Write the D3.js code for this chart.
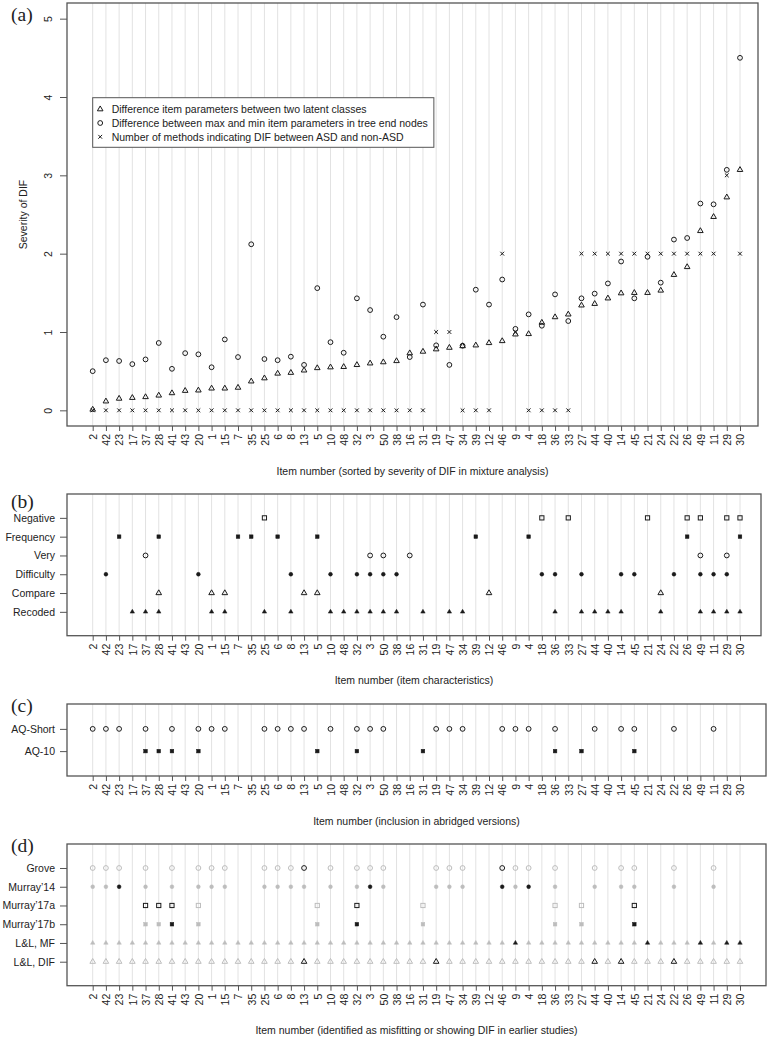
<!DOCTYPE html>
<html>
<head>
<meta charset="utf-8">
<script src="https://cdn.jsdelivr.net/npm/d3@7"></script>
<style>
  html, body { margin: 0; padding: 0; background: #fff; }
  svg { display: block; }
  text { font-family: "Liberation Sans", Arial, sans-serif; fill: #222; }
</style>
</head>
<body>
<svg id="chart" width="769" height="1039"></svg>
<script>
// ---------------- DATA ----------------
const items = [2,42,23,17,37,28,41,43,20,1,15,7,35,25,6,8,13,5,10,48,32,3,50,38,16,31,19,47,34,39,12,46,9,4,18,36,33,27,44,40,14,45,21,24,22,26,49,11,29,30];

// (a) severity of DIF
const mixtureDiff = [0.01,0.115,0.15,0.16,0.17,0.19,0.22,0.25,0.255,0.28,0.28,0.29,0.37,0.41,0.47,0.48,0.51,0.54,0.55,0.555,0.58,0.60,0.615,0.63,0.73,0.75,0.78,0.80,0.82,0.83,0.86,0.885,0.97,0.975,1.12,1.19,1.225,1.34,1.36,1.43,1.495,1.50,1.50,1.53,1.73,1.83,2.29,2.47,2.72,3.07];
const treeDiff = [0.50,0.64,0.63,0.59,0.65,0.86,0.53,0.73,0.715,0.55,0.905,0.68,2.12,0.655,0.64,0.685,0.58,1.56,0.87,0.735,1.43,1.28,0.94,1.19,0.68,1.35,0.83,0.58,0.825,1.54,1.35,1.67,1.04,1.225,1.08,1.48,1.14,1.43,1.49,1.62,1.90,1.43,1.96,1.63,2.18,2.20,2.64,2.63,3.07,4.50];
const nMethods = [0,0,0,0,0,0,0,0,0,0,0,0,0,0,0,0,0,0,0,0,0,0,0,0,0,0,1,1,0,0,0,2,1,0,0,0,0,2,2,2,2,2,2,2,2,2,2,2,3,2];
const yTicksA = [0,1,2,3,4,5];
const legendLabels = [
  "Difference item parameters between two latent classes",
  "Difference between max and min item parameters in tree end nodes",
  "Number of methods indicating DIF between ASD and non-ASD"
];

// (b) item characteristics
const charRows = ["Negative","Frequency","Very","Difficulty","Compare","Recoded"];
const negativeItems = [25,18,33,21,26,49,29,30];
const frequencyItems = [23,28,7,35,6,5,39,4,26,30];
const veryItems = [37,3,50,16,49,29];
const difficultyItems = [42,20,8,10,32,3,50,38,18,36,27,14,45,22,49,11,29];
const compareItems = [28,1,15,13,5,12,24];
const recodedItems = [17,37,28,1,15,25,8,10,48,32,3,50,38,31,47,34,36,27,44,40,14,24,49,11,29,30];

// (c) abridged versions
const abridgedRows = ["AQ-Short","AQ-10"];
const aqShortItems = [2,42,23,37,41,20,1,15,25,6,8,13,10,32,3,50,19,47,34,46,9,4,36,44,14,45,22,11];
const aq10Items = [37,28,41,20,5,32,31,36,27,45];

// (d) earlier studies
const studyRows = ["Grove","Murray\u201914","Murray\u201917a","Murray\u201917b","L&L, MF","L&L, DIF"];
const groveFlag = [13,46];
const murray14Flag = [23,3,46,4];
const murray17aFlag = [37,28,41,32,45];
const murray17bFlag = [41,32,45];
const llMfFlag = [9,21,49,29,30];
const llDifFlag = [13,19,44,14,22];

const titles = [
  "Item number (sorted by severity of DIF in mixture analysis)",
  "Item number (item characteristics)",
  "Item number (inclusion in abridged versions)",
  "Item number (identified as misfitting or showing DIF in earlier studies)"
];

// ---------------- DRAWING ----------------
const svg = d3.select("#chart");
const BOX = "#555", GRID = "#e2e2e2", INK = "#1a1a1a", GREY = "#bdbdbd";
const LEFT = 67;
const x = d3.scalePoint().domain(items).range([92.7, 740]);

function sym(g, type, cx, cy, color) {
  color = color || INK;
  if (type === "circleOpen" || type === "circleFilled") {
    const filled = type === "circleFilled";
    g.append("circle").attr("cx", cx).attr("cy", cy)
      .attr("r", filled ? 1.9 : 2.4)
      .attr("fill", filled ? color : "none")
      .attr("stroke", color).attr("stroke-width", filled ? 0.5 : 1);
  } else if (type === "triOpen" || type === "triFilled") {
    const filled = type === "triFilled";
    const a = filled ? 4.4 : 5.6;
    const r = a / Math.sqrt(3);
    const pts = [[cx, cy - r], [cx + a / 2, cy + r / 2], [cx - a / 2, cy + r / 2]];
    g.append("path").attr("d", "M" + pts.map(p => p.join(",")).join("L") + "Z")
      .attr("fill", filled ? color : "none")
      .attr("stroke", color).attr("stroke-width", filled ? 0.5 : 1)
      .attr("stroke-linejoin", "miter");
  } else if (type === "sqOpen" || type === "sqFilled") {
    const filled = type === "sqFilled";
    const s = filled ? 3.6 : 4.2;
    g.append("rect").attr("x", cx - s / 2).attr("y", cy - s / 2)
      .attr("width", s).attr("height", s)
      .attr("fill", filled ? color : "none")
      .attr("stroke", color).attr("stroke-width", filled ? 0.5 : 1);
  } else if (type === "cross") {
    const h = 1.9;
    g.append("path").attr("d", `M${cx-h},${cy-h}L${cx+h},${cy+h}M${cx-h},${cy+h}L${cx+h},${cy-h}`)
      .attr("stroke", color).attr("stroke-width", 1).attr("fill", "none");
  }
}

function panelFrame(cfg) {
  const g = svg.append("g");
  g.selectAll("line.grid").data(items).enter().append("line")
    .attr("x1", d => x(d)).attr("x2", d => x(d))
    .attr("y1", cfg.top).attr("y2", cfg.bottom)
    .attr("stroke", GRID).attr("stroke-width", 1);
  const ax = g.append("g").attr("transform", `translate(0,${cfg.bottom})`)
    .call(d3.axisBottom(x).tickSize(5).tickSizeOuter(0));
  ax.select(".domain").remove();
  ax.selectAll(".tick line").attr("stroke", BOX);
  ax.selectAll(".tick text")
    .attr("transform", "rotate(-90)")
    .attr("x", -8).attr("y", 0).attr("dy", "0.36em")
    .style("text-anchor", "end")
    .style("font-size", "10.5px")
    .style("font-family", '"Liberation Sans", Arial, sans-serif')
    .attr("fill", "#222");
  g.append("text").attr("x", (LEFT + cfg.right) / 2).attr("y", cfg.bottom + 48.5)
    .attr("text-anchor", "middle").style("font-size", "10.5px").text(cfg.title);
  g.append("text").attr("x", 11).attr("y", cfg.labelY)
    .style("font-family", '"Liberation Serif", "Times New Roman", serif')
    .style("font-size", "19.5px").text(cfg.label);
  return g;
}

function drawBox(g, cfg) {
  g.append("rect").attr("x", LEFT).attr("y", cfg.top)
    .attr("width", cfg.right - LEFT).attr("height", cfg.bottom - cfg.top)
    .attr("fill", "none").attr("stroke", BOX).attr("stroke-width", 1.3);
}

function rowAxis(g, y, rows) {
  const ay = g.append("g").attr("transform", `translate(${LEFT},0)`)
    .call(d3.axisLeft(y).tickValues(rows.map((r, i) => rows.length - i))
      .tickFormat(v => rows[rows.length - v]).tickSize(7).tickPadding(5));
  ay.select(".domain").remove();
  ay.selectAll(".tick line").attr("stroke", BOX);
  ay.selectAll(".tick text").style("font-size", "10.5px")
    .style("font-family", '"Liberation Sans", Arial, sans-serif').attr("fill", "#222");
}

// ---- Panel (a)
{
  const cfg = {top: 3, bottom: 426, right: 758, label: "(a)", labelY: 21, title: titles[0]};
  const g = panelFrame(cfg);
  const y = d3.scaleLinear().domain([-0.2, 5.2]).range([cfg.bottom, cfg.top]);
  const ay = g.append("g").attr("transform", `translate(${LEFT},0)`)
    .call(d3.axisLeft(y).tickValues(yTicksA).tickFormat(d3.format("d")).tickSize(7));
  ay.select(".domain").remove();
  ay.selectAll(".tick line").attr("stroke", BOX);
  ay.selectAll(".tick text")
    .attr("transform", "rotate(-90)")
    .attr("x", 0).attr("y", -15).attr("dy", 0)
    .style("text-anchor", "middle").style("font-size", "10.5px")
    .style("font-family", '"Liberation Sans", Arial, sans-serif').attr("fill", "#222");
  g.append("text").attr("transform", `translate(27,${(cfg.top + cfg.bottom) / 2}) rotate(-90)`)
    .attr("text-anchor", "middle").style("font-size", "10.5px").text("Severity of DIF");

  const mk = g.append("g");
  items.forEach((it, i) => {
    sym(mk, "cross", x(it), y(nMethods[i]));
    sym(mk, "circleOpen", x(it), y(treeDiff[i]));
    sym(mk, "triOpen", x(it), y(mixtureDiff[i]));
  });

  const lg = g.append("g");
  const lx = 92.7, ly = 97.7, lh = 13.8;
  const box = lg.append("rect").attr("x", lx).attr("y", ly).attr("height", 49.6)
    .attr("fill", "#fff").attr("stroke", BOX).attr("stroke-width", 1);
  const types = ["triOpen", "circleOpen", "cross"];
  let maxW = 0;
  legendLabels.forEach((t, i) => {
    const cy = ly + 11.5 + i * lh;
    sym(lg, types[i], lx + 7.5, cy);
    const tx = lg.append("text").attr("x", lx + 19).attr("y", cy + 3.8)
      .style("font-size", "10.5px").text(t);
    maxW = Math.max(maxW, tx.node().getComputedTextLength());
  });
  box.attr("width", 19 + maxW + 6);
  drawBox(g, cfg);
}

// ---- Panel (b)
{
  const cfg = {top: 494, bottom: 635.7, right: 761, label: "(b)", labelY: 508, title: titles[1]};
  const g = panelFrame(cfg);
  const y = d3.scaleLinear().domain([-0.27, 7.27]).range([cfg.bottom, cfg.top]);
  rowAxis(g, y, charRows);
  const sets = [
    [negativeItems, "sqOpen"], [frequencyItems, "sqFilled"], [veryItems, "circleOpen"],
    [difficultyItems, "circleFilled"], [compareItems, "triOpen"], [recodedItems, "triFilled"]
  ];
  const mk = g.append("g");
  sets.forEach(([list, type], r) => {
    list.forEach(it => sym(mk, type, x(it), y(charRows.length - r)));
  });
  drawBox(g, cfg);
}

// ---- Panel (c)
{
  const cfg = {top: 704, bottom: 776, right: 766, label: "(c)", labelY: 712, title: titles[2]};
  const g = panelFrame(cfg);
  const y = d3.scaleLinear().domain([-0.12, 3.12]).range([cfg.bottom, cfg.top]);
  rowAxis(g, y, abridgedRows);
  const mk = g.append("g");
  aqShortItems.forEach(it => sym(mk, "circleOpen", x(it), y(2)));
  aq10Items.forEach(it => sym(mk, "sqFilled", x(it), y(1)));
  drawBox(g, cfg);
}

// ---- Panel (d)
{
  const cfg = {top: 844, bottom: 985.7, right: 766, label: "(d)", labelY: 852, title: titles[3]};
  const g = panelFrame(cfg);
  const y = d3.scaleLinear().domain([-0.28, 7.28]).range([cfg.bottom, cfg.top]);
  rowAxis(g, y, studyRows);
  const rows = [
    [aqShortItems, groveFlag, "circleOpen"],
    [aqShortItems, murray14Flag, "circleFilled"],
    [aq10Items, murray17aFlag, "sqOpen"],
    [aq10Items, murray17bFlag, "sqFilled"],
    [items, llMfFlag, "triFilled"],
    [items, llDifFlag, "triOpen"]
  ];
  const mk = g.append("g");
  rows.forEach(([base, flag, type], r) => {
    base.forEach(it => {
      const on = flag.includes(it);
      sym(mk, type, x(it), y(studyRows.length - r), on ? INK : GREY);
    });
  });
  drawBox(g, cfg);
}
</script>
</body>
</html>
